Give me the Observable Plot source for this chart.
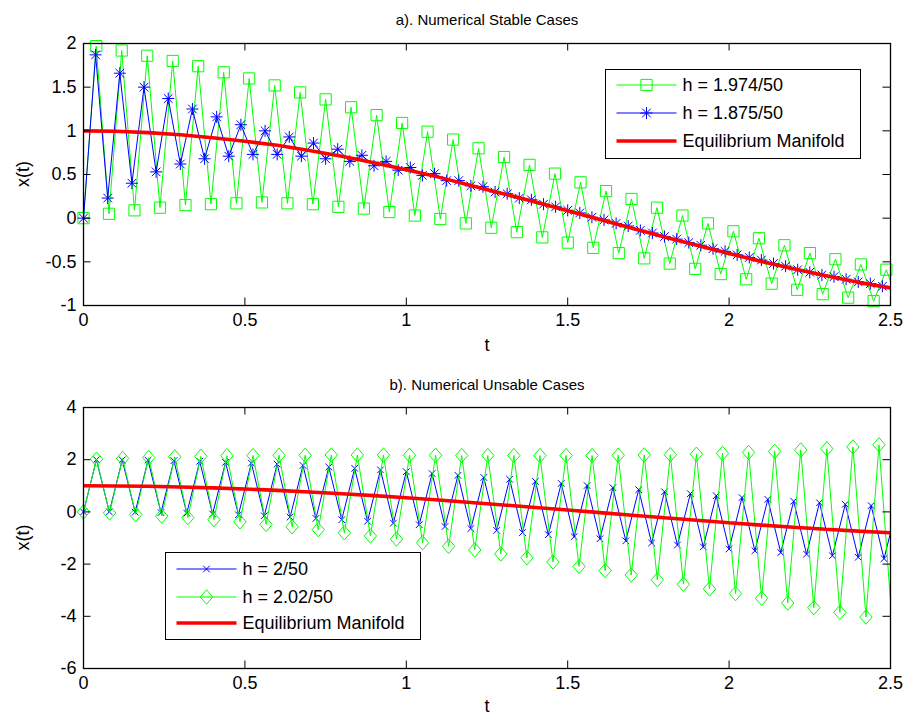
<!DOCTYPE html>
<html><head><meta charset="utf-8">
<script src="https://cdn.jsdelivr.net/npm/d3@7"></script>
<script src="https://cdn.jsdelivr.net/npm/@observablehq/plot@0.6"></script>
<style>
body{margin:0;background:#fff}
#chart{width:906px;height:716px;position:relative;background:#fff}
#chart svg{display:block}
</style>
</head><body><div id="chart"></div>
<script>
// ---- data ----
const xTicks = [0, 0.5, 1, 1.5, 2, 2.5];
const yTicksA = [-1, -0.5, 0, 0.5, 1, 1.5, 2];
const yTicksB = [-6, -4, -2, 0, 2, 4];

const titleA = "a). Numerical Stable Cases";
const titleB = "b). Numerical Unsable Cases";
const xLabel = "t";
const yLabel = "x(t)";

// step sizes (from the legend labels)
const stepGreenA = 1.974 / 50;
const stepBlueA = 1.875 / 50;
const stepBlueB = 2 / 50;
const stepGreenB = 2.02 / 50;
const stepRed = 0.1;

const labelGreenA = "h = 1.974/50";
const labelBlueA = "h = 1.875/50";
const labelBlueB = "h = 2/50";
const labelGreenB = "h = 2.02/50";
const labelRed = "Equilibrium Manifold";

const greenA = [0.00,1.97,0.05,1.92,0.09,1.86,0.12,1.80,0.15,1.74,0.16,1.67,0.17,1.60,0.18,1.52,0.17,1.44,0.16,1.36,0.13,1.27,0.11,1.18,0.07,1.09,0.03,0.99,-0.01,0.90,-0.06,0.80,-0.11,0.70,-0.16,0.61,-0.22,0.51,-0.28,0.41,-0.34,0.31,-0.40,0.22,-0.46,0.12,-0.52,0.03,-0.58,-0.06,-0.64,-0.15,-0.70,-0.23,-0.75,-0.31,-0.82,-0.40,-0.87,-0.47,-0.91,-0.53,-0.95,-0.59,-0.99];
const blueA = [0.00,1.87,0.23,1.66,0.40,1.50,0.53,1.37,0.62,1.25,0.68,1.16,0.71,1.07,0.73,1.00,0.73,0.93,0.71,0.86,0.68,0.79,0.65,0.72,0.60,0.65,0.55,0.58,0.49,0.51,0.43,0.43,0.37,0.36,0.30,0.28,0.23,0.21,0.16,0.13,0.09,0.06,0.01,-0.02,-0.06,-0.09,-0.14,-0.17,-0.21,-0.24,-0.28,-0.31,-0.35,-0.38,-0.42,-0.45,-0.48,-0.52,-0.55,-0.59,-0.62,-0.65,-0.67,-0.70,-0.73,-0.75,-0.78,-0.80];
const redA = [1.000,0.995,0.980,0.955,0.921,0.880,0.835,0.775,0.710,0.635,0.555,0.470,0.375,0.280,0.185,0.085,-0.015,-0.115,-0.215,-0.310,-0.405,-0.495,-0.580,-0.660,-0.735,-0.800];

const blueB = [0.00,2.00,0.00,1.99,-0.01,1.98,-0.03,1.96,-0.05,1.94,-0.08,1.90,-0.11,1.87,-0.15,1.83,-0.20,1.78,-0.25,1.72,-0.30,1.67,-0.36,1.61,-0.43,1.54,-0.49,1.47,-0.56,1.40,-0.64,1.32,-0.71,1.25,-0.79,1.17,-0.87,1.09,-0.95,1.01,-1.03,0.93,-1.11,0.85,-1.19,0.77,-1.27,0.70,-1.34,0.62,-1.42,0.55,-1.49,0.48,-1.56,0.41,-1.62,0.35,-1.68,0.29,-1.74,0.24,-1.79,0.19];
const greenB = [0.00,2.02,-0.04,2.05,-0.10,2.08,-0.16,2.11,-0.22,2.13,-0.30,2.15,-0.38,2.16,-0.48,2.17,-0.57,2.17,-0.68,2.18,-0.80,2.18,-0.92,2.18,-1.04,2.17,-1.18,2.17,-1.32,2.16,-1.46,2.16,-1.61,2.16,-1.76,2.16,-1.92,2.16,-2.09,2.16,-2.25,2.17,-2.42,2.18,-2.60,2.19,-2.77,2.21,-2.95,2.24,-3.13,2.28,-3.31,2.32,-3.49,2.37,-3.67,2.42,-3.85,2.49,-4.03,2.57,-4.22,2.65];
const redB = [1.000,0.995,0.980,0.955,0.921,0.878,0.825,0.765,0.697,0.622,0.540,0.454,0.362,0.267,0.170,0.071,-0.029,-0.129,-0.227,-0.323,-0.416,-0.505,-0.589,-0.666,-0.737,-0.801];

// ---- styling ----
const GREEN = "#00ff00", BLUE = "#0000ff", RED = "#ff0000";
const FONT = "'Liberation Sans', Arial, Helvetica, sans-serif";

// MATLAB-like marker shapes
const symSquare = {draw(c){ const s = 5.6; c.moveTo(-s,-s); c.lineTo(s,-s); c.lineTo(s,s); c.lineTo(-s,s); c.closePath(); }};
const symStar = {draw(c){ const r = 6, d = 4.3;
  c.moveTo(-r,0); c.lineTo(r,0); c.moveTo(0,-r); c.lineTo(0,r);
  c.moveTo(-d,-d); c.lineTo(d,d); c.moveTo(-d,d); c.lineTo(d,-d); }};
const symX = {draw(c){ const d = 3.3; c.moveTo(-d,-d); c.lineTo(d,d); c.moveTo(-d,d); c.lineTo(d,-d); }};
const symDiamond = {draw(c){ const w = 6.2, h = 7.2; c.moveTo(0,-h); c.lineTo(w,0); c.lineTo(0,h); c.lineTo(-w,0); c.closePath(); }};

const pts = (vals, step) => vals.map((v, i) => ({t: i * step, v}));
const inside = d => d.t <= 2.5 + 1e-9;

function panel({series, yDomain, yTicks, marginTop, marginBottom, height}) {
  const W = 906, mL = 83, mR = 16;
  const plotH = height - marginTop - marginBottom;
  const plotW = W - mL - mR;
  const tick = 7.5;
  const innerX = xTicks.filter(d => d > 0 && d < 2.5);
  const innerY = yTicks.filter(d => d > yDomain[0] && d < yDomain[1]);
  const marks = [];
  for (const s of series) {
    const data = s.data;
    marks.push(Plot.line(data, {x: "t", y: "v", stroke: s.color, strokeWidth: s.width, clip: true, strokeLinejoin: "miter", strokeLinecap: "butt"}));
    if (s.symbol) marks.push(Plot.dot(data.filter(inside), {x: "t", y: "v", symbol: s.symbol, stroke: s.color, fill: "none", strokeWidth: 1}));
  }
  marks.push(
    Plot.ruleX(innerX, {x: d => d, insetTop: plotH - tick, stroke: "black", strokeWidth: 1}),
    Plot.ruleX(innerX, {x: d => d, insetBottom: plotH - tick, stroke: "black", strokeWidth: 1}),
    Plot.ruleY(innerY, {y: d => d, insetRight: plotW - tick, stroke: "black", strokeWidth: 1}),
    Plot.ruleY(innerY, {y: d => d, insetLeft: plotW - tick, stroke: "black", strokeWidth: 1}),
    Plot.frame({stroke: "black", strokeWidth: 1.3}),
    Plot.axisX({ticks: xTicks, tickSize: 0, tickPadding: 8, tickFormat: d => String(d), label: null}),
    Plot.axisY({ticks: yTicks, tickSize: 0, tickPadding: 7, tickFormat: d => String(d), label: null})
  );
  return Plot.plot({
    width: W, height, marginLeft: mL, marginRight: mR, marginTop, marginBottom,
    x: {domain: [0, 2.5], label: null},
    y: {domain: yDomain, label: null},
    style: {fontFamily: FONT, fontSize: "18px", color: "black", background: "white", overflow: "visible"},
    marks
  });
}

function decorate(svgEl, {title, titleY, xLabelY, yLabelY, legend}) {
  const svg = d3.select(svgEl);
  svg.append("text").attr("x", 487).attr("y", titleY).attr("text-anchor", "middle")
    .style("font-size", "15px").style("font-family", FONT).text(title);
  svg.append("text").attr("x", 487).attr("y", xLabelY).attr("text-anchor", "middle")
    .style("font-size", "18px").style("font-family", FONT).text(xLabel);
  svg.append("text").attr("transform", `translate(23,${yLabelY}) rotate(-90)`).attr("text-anchor", "middle")
    .attr("dy", "0.35em").style("font-size", "18px").style("font-family", FONT).text(yLabel);
  const L = legend;
  const g = svg.append("g");
  g.append("rect").attr("x", L.x).attr("y", L.y).attr("width", L.w).attr("height", L.h)
    .attr("fill", "white").attr("stroke", "black").attr("stroke-width", 1);
  L.rows.forEach((r, i) => {
    const y = L.rowY[i];
    g.append("path").attr("d", `M${L.x + 11},${y}H${L.x + 71}`)
      .attr("fill", "none").attr("stroke", r.color).attr("stroke-width", r.width);
    if (r.symbol) {
      const p = d3.path(); r.symbol.draw(p, 0);
      g.append("path").attr("d", p.toString()).attr("transform", `translate(${L.x + 41},${y})`)
        .attr("fill", "none").attr("stroke", r.color).attr("stroke-width", 1);
    }
    g.append("text").attr("x", L.x + 77).attr("y", y).attr("dy", "0.35em").attr("text-anchor", "start")
      .style("font-size", "18px").style("font-family", FONT).style("text-anchor", "start").text(r.label);
  });
}

const chart = document.getElementById("chart");

const svgA = panel({
  series: [
    {data: pts(greenA, stepGreenA), color: GREEN, width: 1, symbol: symSquare},
    {data: pts(blueA, stepBlueA), color: BLUE, width: 1, symbol: symStar},
    {data: pts(redA, stepRed), color: RED, width: 3.6}
  ],
  yDomain: [-1, 2], yTicks: yTicksA, marginTop: 43, marginBottom: 53, height: 358
});
decorate(svgA, {title: titleA, titleY: 25, xLabelY: 351, yLabelY: 174,
  legend: {x: 605.5, y: 69.5, w: 255, h: 89, rowY: [85, 113, 141], rows: [
    {label: labelGreenA, color: GREEN, width: 1, symbol: symSquare},
    {label: labelBlueA, color: BLUE, width: 1, symbol: symStar},
    {label: labelRed, color: RED, width: 3.6}
  ]}});
chart.appendChild(svgA);

const svgB = panel({
  series: [
    {data: pts(blueB, stepBlueB), color: BLUE, width: 1, symbol: symX},
    {data: pts(greenB, stepGreenB), color: GREEN, width: 1, symbol: symDiamond},
    {data: pts(redB, stepRed), color: RED, width: 3.6}
  ],
  yDomain: [-6, 4], yTicks: yTicksB, marginTop: 49, marginBottom: 48, height: 358
});
decorate(svgB, {title: titleB, titleY: 32, xLabelY: 354, yLabelY: 179.5,
  legend: {x: 165.5, y: 552.5 - 358, w: 255, h: 87, rowY: [569 - 358, 597 - 358, 623 - 358], rows: [
    {label: labelBlueB, color: BLUE, width: 1, symbol: symX},
    {label: labelGreenB, color: GREEN, width: 1, symbol: symDiamond},
    {label: labelRed, color: RED, width: 3.6}
  ]}});
chart.appendChild(svgB);
</script>
</body></html>
